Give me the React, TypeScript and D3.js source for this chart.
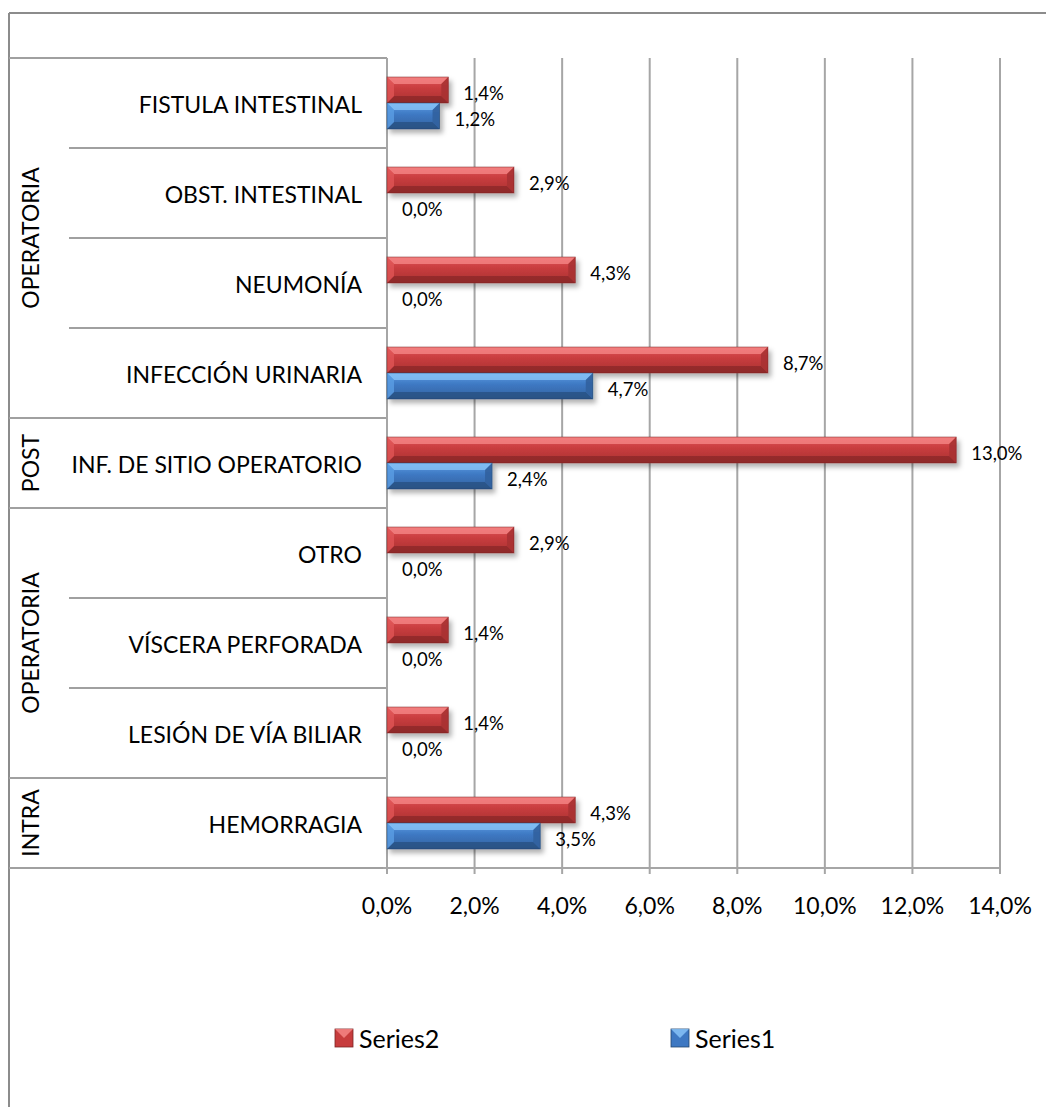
import React from "react";
import * as d3 from "d3";

const categories = [
  "FISTULA INTESTINAL",
  "OBST. INTESTINAL",
  "NEUMONÍA",
  "INFECCIÓN URINARIA",
  "INF. DE SITIO OPERATORIO",
  "OTRO",
  "VÍSCERA PERFORADA",
  "LESIÓN DE VÍA BILIAR",
  "HEMORRAGIA",
];
const series2 = [1.4, 2.9, 4.3, 8.7, 13.0, 2.9, 1.4, 1.4, 4.3];
const series1 = [1.2, 0.0, 0.0, 4.7, 2.4, 0.0, 0.0, 0.0, 3.5];
const groups = [
  { label: "OPERATORIA", first: 0, last: 3 },
  { label: "POST", first: 4, last: 4 },
  { label: "OPERATORIA", first: 5, last: 7 },
  { label: "INTRA", first: 8, last: 8 },
];
const xTicks = [0, 2, 4, 6, 8, 10, 12, 14];
const seriesNames = ["Series2", "Series1"];

const W = 1046;
const H = 1107;
const FONT = "Lato, 'Open Sans', sans-serif";

const fmt = (v: number) => v.toFixed(1).replace(".", ",") + "%";

const palette: Record<string, { light: string; top: string; mid: string; low: string; dark: string }> = {
  Series2: { light: "#f78a8a", top: "#e05556", mid: "#c73c3d", low: "#a93233", dark: "#7a2324" },
  Series1: { light: "#8cc7fa", top: "#5a9de4", mid: "#3e78c2", low: "#32629f", dark: "#23466f" },
};

function Bar({ x0, x1, y, h, name }: { x0: number; x1: number; y: number; h: number; name: string }) {
  const w = x1 - x0;
  if (w <= 0.5) return null;
  const b = Math.min(7, w / 2, h / 3);
  const p = palette[name];
  const y1 = y + h;
  return (
    <g filter="url(#shadow)">
      <rect x={x0} y={y} width={w} height={h} fill={`url(#grad-${name})`} />
      {/* top bevel */}
      <polygon points={`${x0},${y} ${x1},${y} ${x1 - b},${y + b} ${x0 + b},${y + b}`} fill={p.light} opacity={0.75} />
      {/* bottom bevel */}
      <polygon points={`${x0},${y1} ${x1},${y1} ${x1 - b},${y1 - b} ${x0 + b},${y1 - b}`} fill={p.dark} opacity={0.55} />
      {/* right bevel */}
      <polygon points={`${x1},${y} ${x1},${y1} ${x1 - b},${y1 - b} ${x1 - b},${y + b}`} fill={p.low} opacity={0.9} />
      {/* left bevel */}
      <polygon points={`${x0},${y} ${x0},${y1} ${x0 + b},${y1 - b} ${x0 + b},${y + b}`} fill={p.top} opacity={0.8} />
      <rect x={x0} y={y} width={w} height={h} fill="none" stroke={p.dark} strokeWidth={0.8} opacity={0.6} />
    </g>
  );
}

export default function App() {
  const plotLeft = 387;
  const plotRight = 1000;
  const plotTop = 58;
  const plotBottom = 868;

  const x = d3.scaleLinear().domain([0, 14]).range([plotLeft, plotRight]);
  const y = d3
    .scaleBand<string>()
    .domain(categories)
    .range([plotTop, plotBottom])
    .paddingInner(0.4222)
    .paddingOuter(0.2111);
  const ySeries = d3.scaleBand<string>().domain(seriesNames).range([0, y.bandwidth()]);
  const step = y.step();
  const rowTop = (i: number) => plotTop + i * step;

  const valuesBySeries: Record<string, number[]> = { Series2: series2, Series1: series1 };

  const gridColor = "#a6a6a6";
  const sepColor = "#a0a0a0";

  return (
    <svg
      width={W}
      height={H}
      style={{ position: "absolute", left: 0, top: 0, background: "#fff" }}
      fontFamily={FONT}
    >
      <defs>
        {seriesNames.map((n) => (
          <linearGradient key={n} id={`grad-${n}`} x1="0" y1="0" x2="0" y2="1">
            <stop offset="0%" stopColor={palette[n].top} />
            <stop offset="45%" stopColor={palette[n].mid} />
            <stop offset="100%" stopColor={palette[n].low} />
          </linearGradient>
        ))}
        <filter id="shadow" x="-10%" y="-30%" width="130%" height="180%">
          <feDropShadow dx="3" dy="4" stdDeviation="2.5" floodColor="#000" floodOpacity="0.3" />
        </filter>
      </defs>
      <rect x={0} y={0} width={W} height={H} fill="#fff" />

      {/* chart frame */}
      <line x1={9} y1={13} x2={W} y2={13} stroke="#8c8c8c" strokeWidth={2} />
      <line x1={9} y1={13} x2={9} y2={H} stroke="#8c8c8c" strokeWidth={2} />

      {/* gridlines + ticks */}
      {xTicks.map((t) => (
        <g key={t}>
          <line x1={x(t)} x2={x(t)} y1={plotTop} y2={plotBottom + 6} stroke={gridColor} strokeWidth={2} />
          <text
            x={x(t)}
            y={905}
            textAnchor="middle"
            dominantBaseline="central"
            fontSize={23}
            fill="#000"
          >
            {fmt(t)}
          </text>
        </g>
      ))}

      {/* category separators */}
      {categories.map((c, i) => {
        const isGroupStart = groups.some((g) => g.first === i);
        return (
          <line
            key={"sep" + i}
            x1={isGroupStart ? 9 : 69}
            x2={plotLeft}
            y1={rowTop(i)}
            y2={rowTop(i)}
            stroke={sepColor}
            strokeWidth={2}
          />
        );
      })}
      <line x1={9} x2={plotLeft} y1={plotBottom} y2={plotBottom} stroke={sepColor} strokeWidth={2} />

      {/* axes */}
      <line x1={plotLeft} x2={plotLeft} y1={plotTop} y2={plotBottom} stroke={gridColor} strokeWidth={2} />
      <line x1={plotLeft - 4} x2={plotRight} y1={plotBottom} y2={plotBottom} stroke={gridColor} strokeWidth={2} />

      {/* category labels */}
      {categories.map((c, i) => (
        <text
          key={c}
          x={362}
          y={rowTop(i) + step / 2 + 1}
          textAnchor="end"
          dominantBaseline="central"
          fontSize={23}
          fill="#000"
        >
          {c}
        </text>
      ))}

      {/* group labels */}
      {groups.map((g, i) => {
        const cy = (rowTop(g.first) + rowTop(g.last + 1)) / 2;
        return (
          <text
            key={"g" + i}
            transform={`translate(30,${cy}) rotate(-90)`}
            textAnchor="middle"
            dominantBaseline="central"
            fontSize={23}
            fill="#000"
          >
            {g.label}
          </text>
        );
      })}

      {/* bars */}
      {categories.map((c, i) =>
        seriesNames.map((s) => {
          const v = valuesBySeries[s][i];
          const by = (y(c) ?? 0) + (ySeries(s) ?? 0);
          const bh = ySeries.bandwidth();
          return (
            <g key={c + s}>
              <Bar x0={x(0)} x1={x(v)} y={by} h={bh} name={s} />
              <text
                x={x(v) + 15}
                y={by + bh / 2 + 3}
                dominantBaseline="central"
                fontSize={18.5}
                fill="#000"
              >
                {fmt(v)}
              </text>
            </g>
          );
        })
      )}

      {/* legend */}
      {seriesNames.map((s, i) => {
        const lx = i === 0 ? 335 : 671;
        const ly = 1029;
        const p = palette[s];
        return (
          <g key={"leg" + s}>
            <rect x={lx} y={ly} width={18} height={18} fill={p.mid} stroke={p.dark} strokeWidth={0.8} />
            <polygon points={`${lx},${ly} ${lx + 18},${ly} ${lx + 9},${ly + 9}`} fill={p.light} opacity={0.8} />
            <text x={lx + 24} y={ly + 9} dominantBaseline="central" fontSize={25} fill="#000">
              {s}
            </text>
          </g>
        );
      })}
    </svg>
  );
}
